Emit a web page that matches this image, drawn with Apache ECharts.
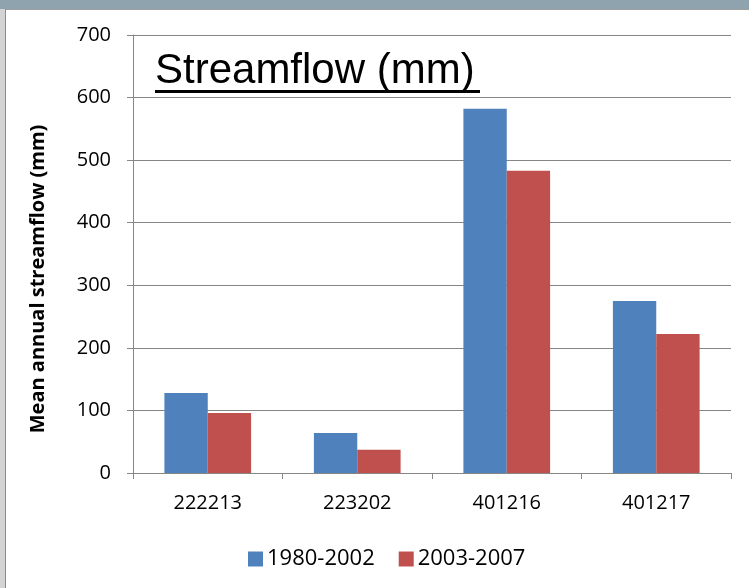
<!DOCTYPE html>
<html>
<head>
<meta charset="utf-8">
<script src="https://cdn.jsdelivr.net/npm/echarts@6/dist/echarts.min.js"></script>
<style>
  html, body { margin: 0; padding: 0; background: #ffffff; }
  #chart { width: 749px; height: 588px; }
</style>
</head>
<body>
<div id="chart"></div>
<script>
  // gauges and periods
  var categories = ['222213', '223202', '401216', '401217'];
  var seriesNames = ['1980-2002', '2003-2007'];
  var early = [128, 64, 582, 275];
  var late = [96, 37, 483, 222];
  var yTicks = [0, 100, 200, 300, 400, 500, 600, 700];

  var chart = echarts.init(document.getElementById('chart'));
  var labelFont = '"Open Sans", sans-serif';

  var option = {
    animation: false,
    color: ['#4f81bd', '#c0504d'],
    graphic: [
      // window frame round the picture
      { type: 'rect', left: 0, top: 0, shape: { width: 749, height: 9 }, style: { fill: '#8ea3ae' } },
      { type: 'rect', left: 0, top: 9, shape: { width: 5, height: 579 }, style: { fill: '#d4d4d4' } },
      { type: 'rect', left: 5, top: 9, shape: { width: 744, height: 1 }, style: { fill: '#a0a0a0' } },
      { type: 'rect', left: 5, top: 9, shape: { width: 1, height: 579 }, style: { fill: '#8c8c8c' } },
      {
        type: 'text',
        left: 155,
        top: 50,
        style: {
          text: 'Streamflow (mm)',
          font: '42px "Liberation Sans", Arial, sans-serif',
          fill: '#000'
        }
      },
      { type: 'rect', left: 155, top: 90, shape: { width: 325, height: 3 }, style: { fill: '#000' } },
      {
        type: 'text',
        x: 38,
        y: 279,
        rotation: Math.PI / 2,
        style: {
          text: 'Mean annual streamflow (mm)',
          font: 'bold 20px "Open Sans", sans-serif',
          fill: '#000',
          align: 'center',
          verticalAlign: 'middle'
        }
      }
    ],
    legend: {
      data: seriesNames,
      left: 243,
      top: 543,
      icon: 'rect',
      itemWidth: 15,
      itemHeight: 15,
      itemGap: 24,
      textStyle: { fontFamily: labelFont, fontSize: 22, color: '#000', padding: [0, 0, 0, -1] }
    },
    grid: { left: 133, right: 18, top: 35, bottom: 115 },
    xAxis: {
      type: 'category',
      data: categories,
      axisLine: { lineStyle: { color: '#868686', width: 1 } },
      axisTick: { show: true, length: 6, lineStyle: { color: '#868686' } },
      axisLabel: { fontFamily: labelFont, fontSize: 20, color: '#000', margin: 20 }
    },
    yAxis: {
      type: 'value',
      min: yTicks[0],
      max: yTicks[yTicks.length - 1],
      interval: 100,
      axisLine: { show: true, lineStyle: { color: '#868686' } },
      axisTick: { show: true, length: 6, lineStyle: { color: '#868686' } },
      axisLabel: { fontFamily: labelFont, fontSize: 20, color: '#000', margin: 22 },
      splitLine: { lineStyle: { color: '#868686', width: 1 } }
    },
    series: [
      { name: seriesNames[0], type: 'bar', data: early, barGap: '0%', barCategoryGap: '42%' },
      { name: seriesNames[1], type: 'bar', data: late, barGap: '0%', barCategoryGap: '42%' }
    ]
  };
  chart.setOption(option);
</script>
</body>
</html>
